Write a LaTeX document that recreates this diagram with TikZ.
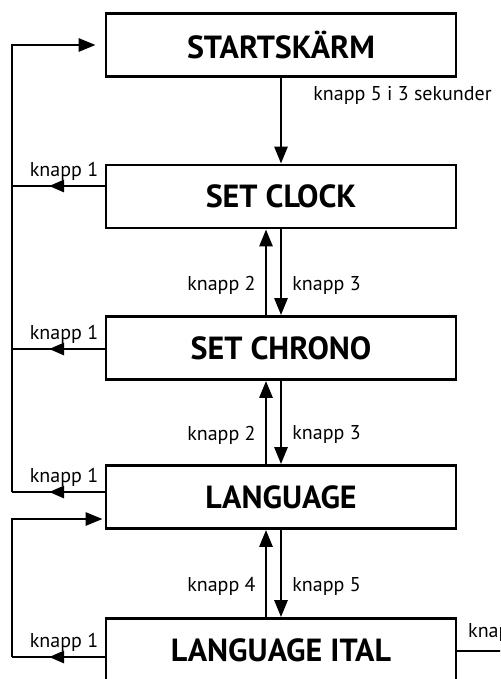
\documentclass[tikz,border=0pt]{standalone}
\usepackage{fontspec}
\setmainfont{PT Sans}
\usetikzlibrary{arrows.meta,decorations.markings}
\tikzset{
  state/.style={draw, line width=2.8pt, minimum width=350pt, minimum height=63pt,
    inner sep=0pt, font=\fontsize{32}{32}\selectfont\bfseries},
  flow/.style={line width=2.8pt, -{Triangle[length=17pt,width=13pt]}},
  back/.style={line width=2.8pt, postaction={decorate},
    decoration={markings, mark=at position 0.6 with {\arrow{Triangle[length=15pt,width=12pt]}}}},
  lbl/.style={font=\fontsize{20}{20}\selectfont, inner sep=0pt},
}
\begin{document}
\begin{tikzpicture}[x=1pt,y=-1pt]
\useasboundingbox (0,0) rectangle (500,679);
\clip (0,0) rectangle (500,679);
% states
\node[state] (start) at (281,45) {STARTSKÄRM};
\node[state] (clock) at (281,196.5) {SET CLOCK};
\node[state] (chrono) at (281,348) {SET CHRONO};
\node[state] (lang) at (281,497) {LANGUAGE};
\node[state] (ital) at (281,650) {LANGUAGE ITAL};
% entry
\draw[flow] (start.south) -- node[lbl, right=31pt, pos=0.2] (hold) {knapp 5 i 3 sekunder} (clock.north);
% up / down
\foreach \a/\b/\u/\d in {clock/chrono/2/3, chrono/lang/2/3, lang/ital/4/5} {
  \draw[flow] ([xshift=-15pt]\b.north) -- node[lbl, left=9pt, pos=0.35] (up\a) {knapp \u} ([xshift=-15pt]\a.south);
  \draw[flow] (\a.south) -- node[lbl, right=10pt, pos=0.65] (dn\a) {knapp \d} (\b.north);
}
% back to start screen
\coordinate (rail) at (12,492);
\draw[flow, shorten >=9pt] (rail) |- (start.west);
\foreach \n/\y in {clock/186, chrono/349, lang/492, ital/657} {
  \draw[back] (\n.west |- 0,\y) -- (12,\y);
  \node[lbl, anchor=base] (esc\n) at (64,\y-10) {knapp 1};
}
% back to language
\coordinate (rail2) at (12,657);
\draw[flow, shorten >=2pt] (rail2) |- ([yshift=-22pt]lang.west);
% right exit
\coordinate (exit) at (520,651);
\draw[line width=2.8pt] (ital.east |- exit) -- (exit);
\node[lbl, anchor=base west] (out) at (468,637) {knapp};
\end{tikzpicture}
\end{document}
